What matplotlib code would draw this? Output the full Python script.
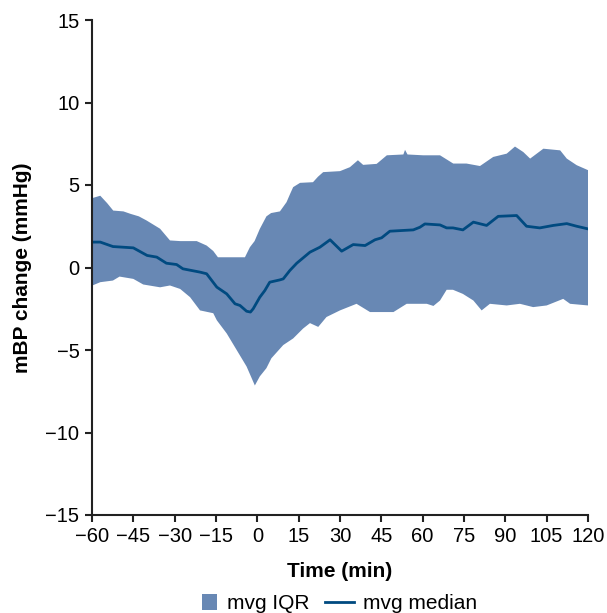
import matplotlib
matplotlib.use("Agg")
import matplotlib.pyplot as plt
from matplotlib.patches import Patch, Rectangle
from matplotlib.lines import Line2D
from matplotlib.legend_handler import HandlerPatch

plt.rcParams['font.family'] = ['Liberation Sans', 'DejaVu Sans']

# Upper IQR edge
t_up = [-60, -57, -54.5, -52.3, -48.6, -46, -43, -40.2, -35.3, -31.7, -28, -22, -18.4, -16, -14.3,
        -4.5, -2.7, -1, 0.9, 3.3, 5, 8.2, 10.6, 12, 13, 15.5, 20.2, 22, 23.9, 30, 33.6, 36.5, 38.4,
        43.3, 47, 53, 53.6, 54.5, 60.2, 66.3, 71.1, 75.9, 80.8, 85.6, 90.5, 93.5, 96.5, 99, 103.8,
        109.9, 112.3, 115.9, 120]
v_up = [4.2, 4.35, 3.9, 3.45, 3.4, 3.25, 3.1, 2.85, 2.35, 1.64, 1.6, 1.6, 1.33, 1.0, 0.62,
        0.62, 1.23, 1.6, 2.34, 3.1, 3.3, 3.4, 3.96, 4.5, 4.87, 5.13, 5.17, 5.5, 5.78, 5.84, 6.08, 6.5, 6.22,
        6.28, 6.8, 6.85, 7.13, 6.85, 6.8, 6.8, 6.3, 6.3, 6.15, 6.7, 6.9, 7.33, 7.0, 6.6, 7.2,
        7.1, 6.6, 6.2, 5.9]

# Lower IQR edge
t_lo = [-60, -57, -52.4, -50, -45, -41.4, -35.3, -31.7, -28, -24.4, -20.8, -16, -14.7, -11.1, -7.5,
        -3.9, -0.9, 0.9, 3.3, 5.1, 9.4, 13, 16.6, 19.1, 22.1, 25.1, 30, 36, 40.9, 49.4, 54.2, 61.5,
        63.9, 66.3, 68.7, 71, 74.6, 78.4, 81.4, 84.4, 90.5, 95.3, 100.1, 105, 111, 113.5, 120]
v_lo = [-1.1, -0.89, -0.79, -0.55, -0.69, -1.03, -1.2, -1.09, -1.3, -1.8, -2.6, -2.77, -3.2, -4.0, -5.0,
        -6.0, -7.15, -6.6, -6.1, -5.5, -4.7, -4.3, -3.7, -3.37, -3.6, -3.0, -2.6, -2.2, -2.7, -2.7, -2.2, -2.2,
        -2.33, -2.0, -1.35, -1.35, -1.6, -2.0, -2.6, -2.2, -2.3, -2.2, -2.4, -2.3, -1.9, -2.2, -2.3]

# Median
t_med = [-60, -57, -52.4, -45, -40, -36.5, -33, -29.3, -27, -20.8, -18.4, -14.7, -11.1, -8.1, -6.3,
         -3.9, -2.5, -1.5, 0.9, 2.7, 4.5, 8.2, 9.4, 11.8, 14.3, 19.1, 22.7, 26.4, 30.6, 34.8, 39.1,
         42.7, 45.1, 48.1, 56.6, 59, 60.8, 66.3, 68.7, 71, 74.6, 78.4, 83.2, 87.4, 94.1, 97.7, 100.1,
         102.5, 107.4, 112.3, 115.9, 120]
v_med = [1.54, 1.54, 1.27, 1.19, 0.73, 0.63, 0.26, 0.18, -0.08, -0.28, -0.38, -1.19, -1.6, -2.2, -2.3,
         -2.65, -2.7, -2.5, -1.8, -1.4, -0.89, -0.75, -0.69, -0.18, 0.26, 0.93, 1.23, 1.68, 0.99, 1.39, 1.33,
         1.68, 1.8, 2.2, 2.28, 2.44, 2.64, 2.58, 2.4, 2.4, 2.28, 2.75, 2.55, 3.1, 3.15, 2.5, 2.45,
         2.4, 2.55, 2.66, 2.5, 2.34]

x_ticks = [-60, -45, -30, -15, 0, 15, 30, 45, 60, 75, 90, 105, 120]
y_ticks = [-15, -10, -5, 0, 5, 10, 15]

band_color = '#6888b4'
line_color = '#004a80'

fig = plt.figure(figsize=(6.07, 6.13), dpi=100)
ax = fig.add_axes([92/607, 1-515/613, (588-92)/607, (515-20)/613])

poly_x = list(t_up) + list(reversed(t_lo))
poly_y = list(v_up) + list(reversed(v_lo))
ax.fill(poly_x, poly_y, color=band_color, lw=0)
ax.plot(t_med, v_med, color=line_color, lw=2)

ax.set_xlim(-60, 120)
ax.set_ylim(-15, 15)
ax.set_xticks(x_ticks)
ax.set_yticks(y_ticks)
for s in ['top', 'right']:
    ax.spines[s].set_visible(False)
for s in ['left', 'bottom']:
    ax.spines[s].set_linewidth(1.5)
    ax.spines[s].set_color('#222222')
ax.tick_params(direction='out', length=5, width=1.5, color='#222222', labelsize=14.5, pad=4)
ax.set_xlabel('Time (min)', fontsize=15, fontweight='bold', labelpad=11)
ax.set_ylabel('mBP change (mmHg)', fontsize=15, fontweight='bold', labelpad=10)


def square_patch(legend, orig_handle, xdescent, ydescent, width, height, fontsize):
    s = 15.5 * 72 / 100
    return Rectangle((-xdescent + width - s, -ydescent + (height - s) / 2), s, s)


handles = [Patch(facecolor=band_color, edgecolor='none'), Line2D([0], [0], color=line_color, lw=2)]
fig.legend(handles, ['mvg IQR', 'mvg median'], loc='lower center', bbox_to_anchor=(0.548, -0.031),
           ncol=2, frameon=False, fontsize=15, handlelength=1.4, columnspacing=0.75, handletextpad=0.45,
           handler_map={Patch: HandlerPatch(patch_func=square_patch)})

fig.savefig('out.png', dpi=100)
